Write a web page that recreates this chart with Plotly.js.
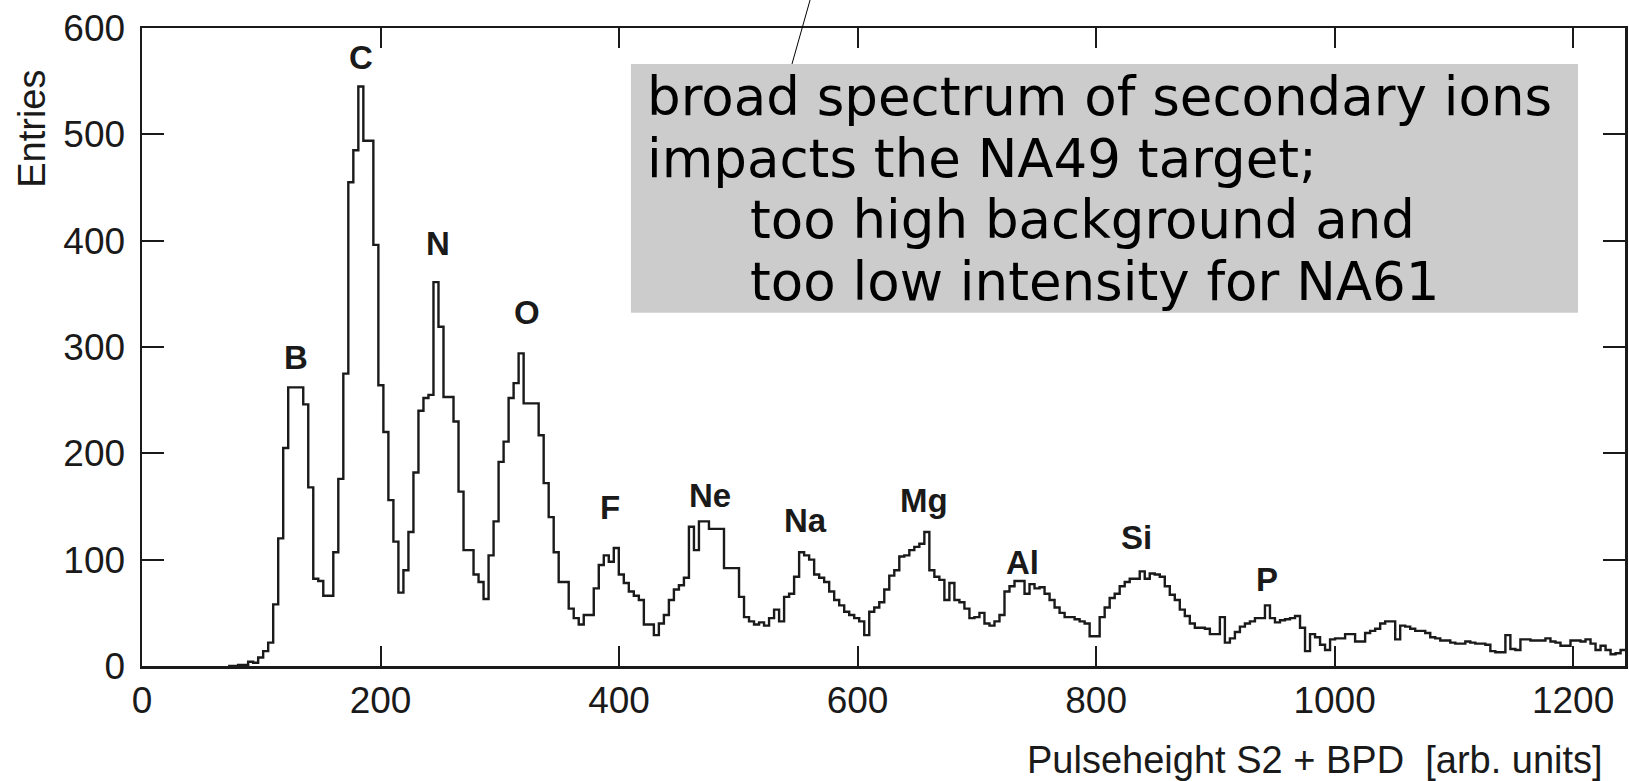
<!DOCTYPE html>
<html>
<head>
<meta charset="utf-8">
<script src="https://cdn.plot.ly/plotly-3.0.1.min.js"></script>
<style>
  html, body { margin: 0; padding: 0; background: #ffffff; }
  #chart { width: 1629px; height: 781px; }
</style>
</head>
<body>
<div id="chart"></div>
<script>
// ---- data ----
const binStart = 72.2;      // left edge of first drawn bin (arb. units)
const binWidth = 4.2;       // bin width (arb. units)
const entries = [
  0, 0, 1, 1, 4, 3, 8, 14, 22, 58,
  120, 205, 262, 262, 262, 246, 168, 82, 80, 66,
  66, 107, 176, 275, 455, 485, 545, 494, 494, 396,
  264, 220, 156, 117, 69, 90, 126, 182, 240, 252,
  255, 361, 319, 253, 253, 230, 164, 109, 109, 86,
  79, 63, 104, 136, 192, 211, 252, 266, 294, 247,
  247, 247, 217, 172, 140, 107, 79, 79, 54, 45,
  39, 48, 48, 73, 95, 104, 98, 111, 86, 78,
  70, 66, 62, 39, 39, 29, 40, 48, 62, 72,
  76, 83, 131, 109, 136, 136, 129, 129, 129, 92,
  92, 92, 65, 46, 42, 39, 41, 38, 45, 53,
  42, 65, 68, 84, 107, 104, 100, 86, 83, 79,
  70, 62, 57, 51, 48, 45, 42, 29, 51, 55,
  60, 72, 85, 90, 103, 104, 109, 112, 115, 126,
  90, 84, 81, 62, 78, 62, 60, 54, 45, 46,
  50, 40, 38, 42, 48, 70, 75, 80, 80, 68,
  77, 73, 74, 68, 62, 55, 50, 46, 46, 44,
  42, 40, 28, 28, 46, 55, 64, 68, 75, 79,
  82, 82, 89, 82, 87, 86, 84, 75, 67, 62,
  53, 47, 40, 36, 36, 35, 30, 30, 46, 22,
  26, 32, 37, 40, 42, 45, 45, 57, 45, 41,
  43, 44, 45, 47, 36, 14, 30, 27, 20, 15,
  25, 26, 26, 30, 30, 23, 23, 31, 33, 35,
  40, 42, 42, 25, 38, 37, 35, 33, 33, 31,
  27, 26, 24, 24, 22, 21, 21, 23, 22, 21,
  21, 20, 14, 13, 13, 29, 16, 15, 25, 25,
  24, 24, 24, 26, 23, 22, 19, 19, 24, 24,
  23, 25, 21, 15, 19, 15, 11, 12, 15, 14
];

const elementNames = ["B", "C", "N", "O", "F", "Ne", "Na", "Mg", "Al", "Si", "P"];
const elementX     = [129, 183.5, 248, 322.6, 392, 476, 556, 656, 738, 833.7, 943.5];
const elementY     = [290.6, 571.8, 397.8, 332, 149.5, 160.8, 137.3, 156, 97.8, 121.3, 80.9];

const xTickVals = [0, 200, 400, 600, 800, 1000, 1200];
const yTickVals = [0, 100, 200, 300, 400, 500, 600];

const xTitle = "Pulseheight S2 + BPD \u00a0[arb. units]";
const yTitle = "Entries";

const boxLines = [
  "broad spectrum of secondary ions",
  "impacts the NA49 target;",
  "too high background and",
  "too low intensity for NA61"
];
const boxLineIndented = [false, false, true, true];

// ---- drawing ----
const ink = "#1a1a1a";
const tickFont = { family: "Liberation Sans, Arial, sans-serif", size: 37, color: ink };

const trace = {
  type: "scatter",
  mode: "lines",
  x0: binStart,
  dx: binWidth,
  y: entries,
  line: { shape: "hv", color: ink, width: 2.4 },
  hoverinfo: "skip"
};

const annotations = [];
elementNames.forEach((name, i) => {
  annotations.push({
    xref: "x", yref: "y", x: elementX[i], y: elementY[i],
    text: "<b>" + name + "</b>", showarrow: false,
    xanchor: "center", yanchor: "middle",
    font: { family: "Liberation Sans, Arial, sans-serif", size: 33, color: ink }
  });
});

// y title (placed at the top of the axis, rotated)
annotations.push({
  xref: "paper", yref: "paper", x: -0.0742, y: 0.842,
  text: yTitle, textangle: -90, showarrow: false,
  xanchor: "center", yanchor: "middle",
  font: { family: "Liberation Sans, Arial, sans-serif", size: 38, color: ink }
});
// x title (right aligned under the axis)
annotations.push({
  xref: "paper", yref: "paper", x: 0.9865, y: -0.148,
  text: xTitle, showarrow: false,
  xanchor: "right", yanchor: "middle",
  font: { family: "Liberation Sans, Arial, sans-serif", size: 38, color: ink }
});

const lineY = [0.8923, 0.7956, 0.6995, 0.6024];
boxLines.forEach((t, i) => {
  annotations.push({
    xref: "paper", yref: "paper",
    x: boxLineIndented[i] ? 0.4086 : 0.3392, y: lineY[i],
    text: t, showarrow: false, xanchor: "left", yanchor: "middle",
    font: { family: "DejaVu Sans, sans-serif", size: 53, color: "#000000" }
  });
});

const layout = {
  width: 1629, height: 781,
  margin: { l: 142, r: 4, t: 28, b: 115 },
  paper_bgcolor: "#ffffff", plot_bgcolor: "#ffffff",
  showlegend: false,
  xaxis: {
    range: [0, 1243.5], tickvals: xTickVals, ticktext: xTickVals.map(String),
    showgrid: false, zeroline: false,
    showline: true, linecolor: ink, linewidth: 2.5, mirror: "ticks",
    ticks: "inside", ticklen: 20, tickwidth: 2, tickcolor: ink,
    tickfont: tickFont
  },
  yaxis: {
    range: [0, 600], tickvals: yTickVals, ticktext: yTickVals.map(String),
    showgrid: false, zeroline: false,
    showline: true, linecolor: ink, linewidth: 2.5, mirror: "ticks",
    ticks: "inside", ticklen: 22, tickwidth: 2, tickcolor: ink,
    ticklabelstandoff: 7,
    tickfont: tickFont
  },
  shapes: [
    { type: "rect", xref: "paper", yref: "paper",
      x0: 0.3297, x1: 0.9683, y0: 0.5538, y1: 0.9436,
      fillcolor: "#cccccc", line: { width: 0 }, layer: "above" },
    { type: "line", xref: "paper", yref: "paper",
      x0: 0.4383, y0: 0.9436, x1: 0.4505, y1: 1.044,
      line: { color: "#000000", width: 1 }, layer: "above" }
  ],
  annotations: annotations
};

Plotly.newPlot("chart", [trace], layout, { staticPlot: true, displayModeBar: false });
</script>
</body>
</html>
